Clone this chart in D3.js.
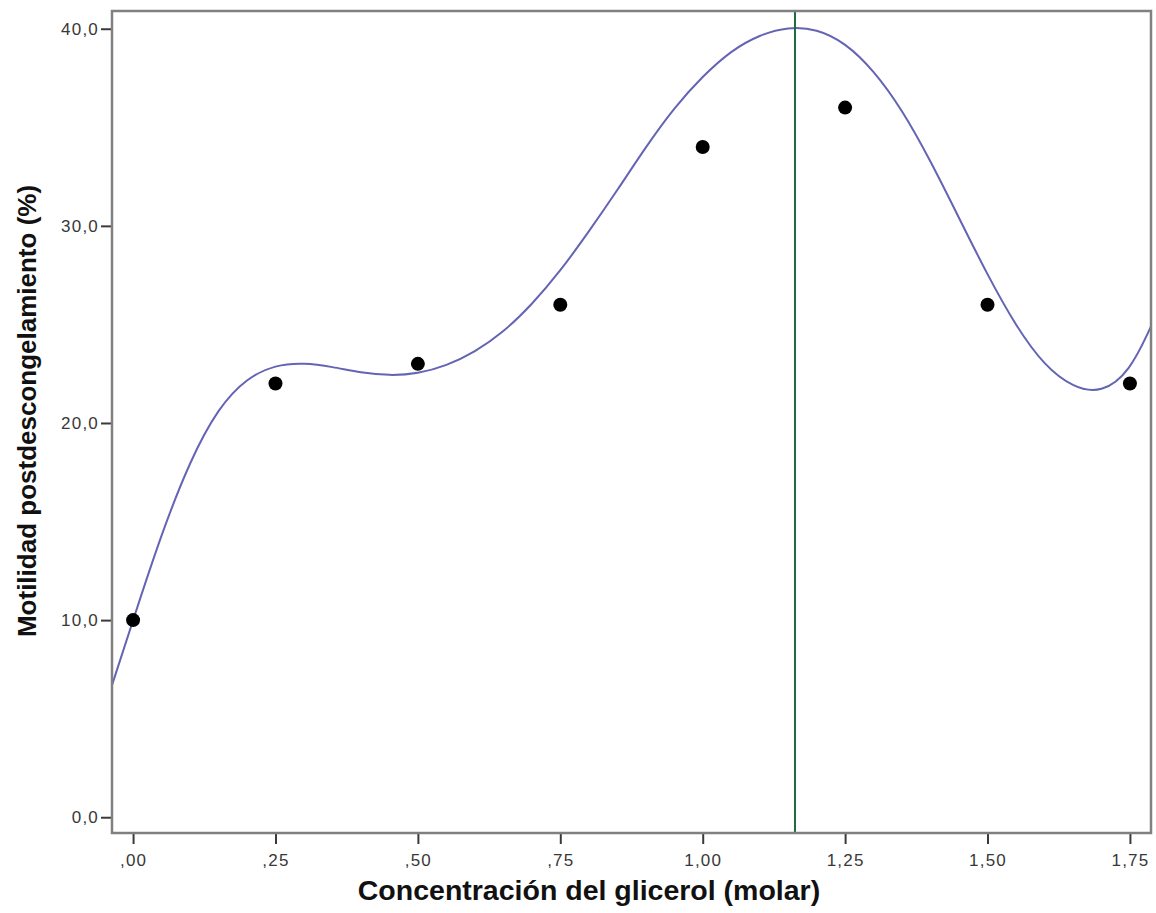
<!DOCTYPE html>
<html>
<head>
<meta charset="utf-8">
<script src="https://cdn.jsdelivr.net/npm/d3@7"></script>
<style>
    body { margin: 0; background: #fff; }
    svg { display: block; }
</style>
</head>
<body>
<svg id="chart" width="1156" height="913"></svg>
<script>
'use strict';

// Observed values (molar -> % motility)
const concentration = [0, 0.25, 0.5, 0.75, 1.0, 1.25, 1.5, 1.75];
const motility = [10, 22, 23, 26, 34, 36, 26, 22];

// Fitted curve
const fitX = [-0.037, 0, 0.05, 0.10, 0.15, 0.20, 0.25, 0.30, 0.35, 0.40, 0.45, 0.50,
    0.55, 0.60, 0.65, 0.70, 0.75, 0.80, 0.85, 0.90, 0.95, 1.00, 1.05, 1.10, 1.15,
    1.20, 1.25, 1.30, 1.35, 1.40, 1.45, 1.50, 1.55, 1.60, 1.65, 1.70, 1.75, 1.787];
const fitY = [6.7, 10.0, 14.4, 18.1, 20.8, 22.3, 22.95, 23.05, 22.85, 22.55, 22.4, 22.5,
    22.9, 23.6, 24.6, 26.0, 27.7, 29.7, 31.8, 34.0, 36.0, 37.6, 38.9, 39.7, 40.1,
    40.0, 39.3, 37.9, 35.9, 33.3, 30.4, 27.5, 24.9, 22.9, 21.8, 21.5, 22.6, 24.9];

const refLineX = 1.162; // green vertical reference line

const xTicks = [0, 0.25, 0.5, 0.75, 1.0, 1.25, 1.5, 1.75];
const yTicks = [0, 10, 20, 30, 40];

const xTitle = "Concentración del glicerol (molar)";
const yTitle = "Motilidad postdescongelamiento (%)";

function main() {
    const svg = d3.select("#chart");
    const margin = {top: 11, right: 5, bottom: 80, left: 112};
    const width = 1156, height = 913;
    const innerW = width - margin.left - margin.right;
    const innerH = height - margin.top - margin.bottom;

    const x = d3.scaleLinear().domain([-0.037, 1.787]).range([0, innerW]);
    const y = d3.scaleLinear().domain([-0.8, 40.9]).range([innerH, 0]);

    const g = svg.append("g").attr("transform", `translate(${margin.left},${margin.top})`);

    // comma decimals
    const fmtX = v => d3.format(".2f")(v).replace(".", ",").replace(/^0,/, ",");
    const fmtY = v => d3.format(".1f")(v).replace(".", ",");

    const xAxis = g.append("g")
        .attr("transform", `translate(0,${innerH})`)
        .call(d3.axisBottom(x).tickValues(xTicks).tickFormat(fmtX).tickSize(11).tickPadding(10));
    const yAxis = g.append("g")
        .call(d3.axisLeft(y).tickValues(yTicks).tickFormat(fmtY).tickSize(11).tickPadding(2));

    [xAxis, yAxis].forEach(a => {
        a.select(".domain").remove();
        a.selectAll(".tick line").attr("stroke", "#3a3a3a").attr("stroke-width", 2);
        a.selectAll(".tick text")
            .attr("fill", "#383838")
            .style("font-family", "Liberation Sans, Arial, sans-serif")
            .style("font-size", "17px")
            .style("letter-spacing", "1.2px");
    });

    // clip for curve
    svg.append("defs").append("clipPath").attr("id", "plot-clip")
        .append("rect").attr("width", innerW).attr("height", innerH);

    const line = d3.line()
        .x((d, i) => x(fitX[i]))
        .y((d, i) => y(fitY[i]))
        .curve(d3.curveBasis);

    g.append("path")
        .datum(fitX)
        .attr("clip-path", "url(#plot-clip)")
        .attr("d", line)
        .attr("fill", "none")
        .attr("stroke", "#6464b4")
        .attr("stroke-width", 2);

    g.append("line")
        .attr("x1", x(refLineX)).attr("x2", x(refLineX))
        .attr("y1", 0).attr("y2", innerH)
        .attr("stroke", "#1f6b3f")
        .attr("stroke-width", 2);

    g.selectAll(".dot")
        .data(concentration)
        .enter().append("circle")
        .attr("class", "dot")
        .attr("cx", d => x(d))
        .attr("cy", (d, i) => y(motility[i]))
        .attr("r", 7)
        .attr("fill", "#000");

    // frame
    g.append("rect")
        .attr("width", innerW).attr("height", innerH)
        .attr("fill", "none")
        .attr("stroke", "#808080")
        .attr("stroke-width", 2.5);

    svg.append("text")
        .attr("x", 589)
        .attr("y", 900)
        .attr("text-anchor", "middle")
        .style("font-family", "Liberation Sans, Arial, sans-serif")
        .style("font-weight", "bold")
        .style("font-size", "28.5px")
        .attr("fill", "#111")
        .text(xTitle);

    svg.append("text")
        .attr("transform", "translate(36,411) rotate(-90)")
        .attr("text-anchor", "middle")
        .style("font-family", "Liberation Sans, Arial, sans-serif")
        .style("font-weight", "bold")
        .style("font-size", "26px")
        .attr("fill", "#111")
        .text(yTitle);
}

main();
</script>
</body>
</html>
